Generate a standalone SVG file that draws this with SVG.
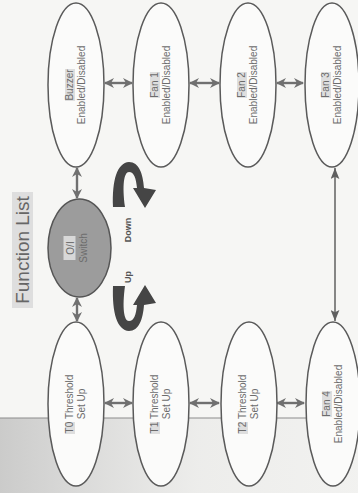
<svg xmlns="http://www.w3.org/2000/svg" xmlns:xlink="http://www.w3.org/1999/xlink" width="358" height="493" viewBox="0 0 358 493">
<style>
.node{fill:#fbfbfa;stroke:#5a5a5a;stroke-width:1.5}
.sw{fill:#9c9c9c;stroke:#555;stroke-width:1.5}
.lbl{font-family:"Liberation Sans",Arial,sans-serif;font-size:10px;fill:#6c6c6c;text-anchor:middle}
.hl{fill:#dedede}
.dbl{stroke:#707070;stroke-width:2.4;fill:none;marker-start:url(#head);marker-end:url(#head)}
.thin{stroke:#606060;stroke-width:1.5;fill:none;marker-start:url(#thinhead);marker-end:url(#thinhead)}
.ud{font-family:"Liberation Sans",Arial,sans-serif;font-size:9px;font-weight:bold;fill:#555;text-anchor:middle}
</style>
<defs>
<marker id="head" viewBox="0 0 10 10" refX="9" refY="5" markerWidth="10" markerHeight="10" markerUnits="userSpaceOnUse" orient="auto-start-reverse">
<path d="M0,0 L10,5 L0,10 L3,5 Z" fill="#707070"/>
</marker>
<marker id="thinhead" viewBox="0 0 10 8" refX="10" refY="4" markerWidth="11" markerHeight="9" markerUnits="userSpaceOnUse" orient="auto-start-reverse">
<path d="M0,0 L10,4 L0,8 L2,4 Z" fill="#606060"/>
</marker>
<linearGradient id="shade" x1="0" y1="0" x2="1" y2="0">
<stop offset="0" stop-color="#a8a8a8" stop-opacity="0.55"/>
<stop offset="0.55" stop-color="#b8b8b8" stop-opacity="0.15"/>
<stop offset="1" stop-color="#c0c0c0" stop-opacity="0.08"/>
</linearGradient>
<path id="curl" d="M113 207 C112 180 117 163 129 162 C139 162 143 174 144 188 L156 190 L145 208 L133 188 L137 188 C136 178 134 172 129 172 C124 172 122 185 125 207 Z" fill="#454545"/>
</defs>
<rect width="358" height="493" fill="#f6f6f4"/>
<rect x="0" y="418" width="358" height="75" fill="url(#shade)"/>
<line x1="0" y1="418" x2="358" y2="418" stroke="#8c8c8c" stroke-width="1"/>

<g id="title">
<rect x="12" y="192" width="21" height="116" class="hl"/>
<text transform="translate(22,250) rotate(-90)" y="7" font-family="Liberation Sans, Arial, sans-serif" font-size="19" fill="#666" text-anchor="middle">Function List</text>
</g>

<g id="connectors">
<line class="dbl" x1="105" y1="83" x2="132" y2="83"/>
<line class="dbl" x1="190" y1="83" x2="219" y2="83"/>
<line class="dbl" x1="277" y1="83" x2="303" y2="83"/>
<line class="dbl" x1="105" y1="403" x2="132" y2="403"/>
<line class="dbl" x1="190" y1="403" x2="219" y2="403"/>
<line class="dbl" x1="277" y1="403" x2="304" y2="403"/>
<line class="dbl" x1="77" y1="168" x2="77" y2="198"/>
<line class="dbl" x1="77" y1="298" x2="77" y2="321"/>
<line class="thin" x1="335" y1="168" x2="335" y2="321"/>
</g>

<g id="switch">
<ellipse class="sw" cx="79.5" cy="248" rx="31.5" ry="49"/>
<g transform="translate(79.5,248) rotate(-90)">
<rect x="-12" y="-16" width="24" height="12" fill="#d8d8d8"/>
<text class="lbl" y="-6" font-size="11" fill="#777">O/I</text>
<text class="lbl" y="7" font-size="9" fill="#5e5e5e">Switch</text>
</g>
</g>

<g id="down">
<use xlink:href="#curl"/>
<text class="ud" transform="translate(128,230) rotate(-90)" y="3">Down</text>
</g>
<g id="up">
<use xlink:href="#curl" transform="translate(0,493) scale(1,-1)"/>
<text class="ud" transform="translate(128,277) rotate(-90)" y="3">Up</text>
</g>

<g id="buzzer">
<ellipse class="node" cx="76" cy="85" rx="28" ry="82"/>
<g transform="translate(76,85) rotate(-90)">
<rect class="hl" x="-16" y="-11" width="32" height="10"/>
<text class="lbl" y="-3">Buzzer</text>
<text class="lbl" y="9">Enabled/Disabled</text>
</g>
</g>
<g id="fan1">
<ellipse class="node" cx="161" cy="85" rx="28" ry="82"/>
<g transform="translate(161,85) rotate(-90)">
<rect class="hl" x="-13" y="-11" width="26" height="10"/>
<text class="lbl" y="-3">Fan 1</text>
<text class="lbl" y="9">Enabled/Disabled</text>
</g>
</g>
<g id="fan2">
<ellipse class="node" cx="248" cy="85" rx="28" ry="82"/>
<g transform="translate(248,85) rotate(-90)">
<rect class="hl" x="-13" y="-11" width="26" height="10"/>
<text class="lbl" y="-3">Fan 2</text>
<text class="lbl" y="9">Enabled/Disabled</text>
</g>
</g>
<g id="fan3">
<ellipse class="node" cx="332" cy="85" rx="27" ry="82"/>
<g transform="translate(332,85) rotate(-90)">
<rect class="hl" x="-13" y="-11" width="26" height="10"/>
<text class="lbl" y="-3">Fan 3</text>
<text class="lbl" y="9">Enabled/Disabled</text>
</g>
</g>
<g id="t0">
<ellipse class="node" cx="76" cy="404" rx="28" ry="82"/>
<g transform="translate(76,404) rotate(-90)">
<rect class="hl" x="-30" y="-11" width="12" height="10"/>
<text class="lbl" y="-3">T0 Threshold</text>
<text class="lbl" y="9">Set Up</text>
</g>
</g>
<g id="t1">
<ellipse class="node" cx="161" cy="404" rx="28" ry="82"/>
<g transform="translate(161,404) rotate(-90)">
<rect class="hl" x="-30" y="-11" width="12" height="10"/>
<text class="lbl" y="-3">T1 Threshold</text>
<text class="lbl" y="9">Set Up</text>
</g>
</g>
<g id="t2">
<ellipse class="node" cx="249" cy="404" rx="28" ry="82"/>
<g transform="translate(249,404) rotate(-90)">
<rect class="hl" x="-30" y="-11" width="12" height="10"/>
<text class="lbl" y="-3">T2 Threshold</text>
<text class="lbl" y="9">Set Up</text>
</g>
</g>
<g id="fan4">
<ellipse class="node" cx="333" cy="404" rx="27" ry="82"/>
<g transform="translate(333,404) rotate(-90)">
<rect class="hl" x="-13" y="-11" width="26" height="10"/>
<text class="lbl" y="-3">Fan 4</text>
<text class="lbl" y="9">Enabled/Disabled</text>
</g>
</g>
</svg>
